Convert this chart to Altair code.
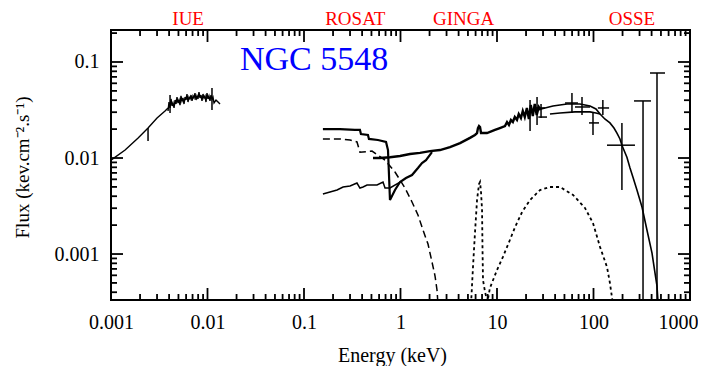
import altair as alt
import pandas as pd

# ---------------- data (energy in keV, flux in keV cm^-2 s^-1) ----------------
iue_model_e = [0.001, 0.00140, 0.00191, 0.00242, 0.00300, 0.00363, 0.00390]
iue_model_f = [0.0095, 0.0121, 0.0162, 0.0205, 0.0261, 0.0309, 0.0332]

iue_data_e = [0.00390, 0.00399, 0.00409, 0.00419, 0.00429, 0.00439, 0.00450, 0.00461, 0.00472, 0.00483,
              0.00495, 0.00507, 0.00519, 0.00531, 0.00544, 0.00557, 0.00571, 0.00585, 0.00599, 0.00613,
              0.00628, 0.00643, 0.00659, 0.00675, 0.00691, 0.00708, 0.00725, 0.00742, 0.00760, 0.00778,
              0.00797, 0.00816, 0.00836, 0.00856, 0.00877, 0.00898, 0.00920, 0.00942, 0.00965, 0.00988,
              0.01012, 0.01036, 0.01061, 0.01087, 0.01113, 0.01140, 0.01168, 0.01225, 0.01285, 0.01348]
iue_data_f = [0.0309, 0.0383, 0.0332, 0.0412, 0.0348, 0.0374, 0.0332, 0.0402, 0.0365, 0.0431,
              0.0374, 0.0402, 0.0356, 0.0443, 0.0393, 0.0422, 0.0365, 0.0431, 0.0402, 0.0464,
              0.0383, 0.0431, 0.0412, 0.0453, 0.0393, 0.0443, 0.0422, 0.0475, 0.0402, 0.0443,
              0.0412, 0.0487, 0.0422, 0.0453, 0.0393, 0.0464, 0.0422, 0.0443, 0.0383, 0.0475,
              0.0412, 0.0443, 0.0393, 0.0453, 0.0412, 0.0431, 0.0374, 0.0402, 0.0383, 0.0365]

rosat_e = [0.157, 0.236, 0.337, 0.380, 0.389, 0.460, 0.471, 0.584, 0.708, 0.742, 0.760, 0.778,
           0.877, 0.989, 1.14, 1.316, 1.517, 1.670, 1.837, 2.12]
rosat_f = [0.0200, 0.0200, 0.0196, 0.0196, 0.0178, 0.0174, 0.0158, 0.0154, 0.0147, 0.0121, 0.00665,
           0.00365, 0.00464, 0.00562, 0.00619, 0.00665, 0.00787, 0.00887, 0.0095, 0.0115]

absorbed_e = [0.157, 0.186, 0.220, 0.254, 0.300, 0.354, 0.380, 0.409, 0.450, 0.571, 0.659, 0.691, 0.778, 0.989]
absorbed_f = [0.00422, 0.00442, 0.00464, 0.00499, 0.00511, 0.00549, 0.00487, 0.00499, 0.00523, 0.00523,
              0.00562, 0.00487, 0.00487, 0.00562]

soft_e = [0.157, 0.236, 0.300, 0.354, 0.380, 0.507, 0.691, 0.877, 1.114, 1.316, 1.517, 1.710, 1.928,
          2.120, 2.280, 2.389, 2.446]
soft_f = [0.0158, 0.0158, 0.0154, 0.0147, 0.0115, 0.0118, 0.0095, 0.00715, 0.00487, 0.00348, 0.00255,
          0.00178, 0.00127, 0.000826, 0.000590, 0.000422, 0.00030]

xray_e = [0.519, 0.614, 0.778, 0.989, 1.254, 1.592, 2.023, 2.566, 3.258, 4.14, 5.25, 5.91, 6.21, 6.35,
          6.51, 6.67, 6.83, 7.88, 9.53, 10.7]
xray_f = [0.0100, 0.0100, 0.0102, 0.0105, 0.0110, 0.0113, 0.0118, 0.0121, 0.0130, 0.0143, 0.0162, 0.0174,
          0.0182, 0.0205, 0.0215, 0.0210, 0.0182, 0.0182, 0.0196, 0.0205]

ginga_e = [12.1, 12.7, 13.3, 13.95, 14.6, 15.3, 16.1, 16.8, 17.7, 18.5, 19.4, 20.4, 21.4, 22.4, 23.5,
           24.6, 25.8, 27.1, 28.4]
ginga_f = [0.0215, 0.0237, 0.0221, 0.0249, 0.0237, 0.0267, 0.0249, 0.0287, 0.0261, 0.0309, 0.0267,
           0.0332, 0.0255, 0.0356, 0.0274, 0.0365, 0.0281, 0.0340, 0.0316]

model_hi_e = [28.6, 38.0, 53.1, 72.4, 92.0, 106, 117, 131, 148, 163, 175, 188, 197, 222, 239, 256, 282,
              318, 358, 404, 434, 455, 465]
model_hi_f = [0.0324, 0.0348, 0.0365, 0.0365, 0.0348, 0.0324, 0.0287, 0.0255, 0.0232, 0.0205, 0.0182,
              0.0158, 0.0136, 0.0102, 0.00787, 0.00634, 0.00464, 0.00309, 0.00178, 0.00102, 0.000634,
              0.000464, 0.000330]

model_lo_e = [35.4, 45.0, 64.3, 92.0, 106, 117]
model_lo_f = [0.0287, 0.0294, 0.0302, 0.0302, 0.0294, 0.0287]

iron_e = [5.38, 5.64, 5.91, 6.21, 6.51, 6.67, 6.83, 7.00, 7.08, 7.16, 7.52, 8.07]
iron_f = [0.00030, 0.000733, 0.00165, 0.00365, 0.00535, 0.00562, 0.00442, 0.00287, 0.00110, 0.000536,
          0.000402, 0.00030]

refl_e = [7.88, 8.45, 10.0, 11.5, 13.6, 15.4, 18.2, 22.0, 27.9, 35.4, 45.0, 61.4, 81.6, 98.8, 117, 138,
          148, 159]
refl_f = [0.00030, 0.000443, 0.000681, 0.00093, 0.00140, 0.00191, 0.00274, 0.00365, 0.00464, 0.00499,
          0.00499, 0.00412, 0.00302, 0.00210, 0.00118, 0.000733, 0.000499, 0.00030]

err_e = [0.00409, 0.01113, 0.00242, 22.0, 26.0, 28.6, 59.8, 76.0, 98.8, 125, 197, 326, 455]
err_lo = [0.0294, 0.0316, 0.0150, 0.0191, 0.0221, 0.0261, 0.0294, 0.0281, 0.0174, 0.0281, 0.00464, 0.0003, 0.0003]
err_hi = [0.0453, 0.0536, 0.0205, 0.0402, 0.0431, 0.0365, 0.0475, 0.0431, 0.0294, 0.0402, 0.0232, 0.0393, 0.0768]

herr_lo = [23.6, 26.8, 50.7, 64.3, 89.8, 111, 138, 263, 385]
herr_hi = [31.4, 33.0, 69.0, 92.0, 114, 145, 269, 394, 551]
herr_f = [0.0332, 0.0267, 0.0374, 0.0340, 0.0232, 0.0332, 0.0136, 0.0393, 0.0768]

x_major = [0.001, 0.01, 0.1, 1, 10, 100, 1000]
x_minor = [0.002, 0.003, 0.004, 0.005, 0.006, 0.007, 0.008, 0.009,
           0.02, 0.03, 0.04, 0.05, 0.06, 0.07, 0.08, 0.09,
           0.2, 0.3, 0.4, 0.5, 0.6, 0.7, 0.8, 0.9,
           2, 3, 4, 5, 6, 7, 8, 9,
           20, 30, 40, 50, 60, 70, 80, 90,
           200, 300, 400, 500, 600, 700, 800, 900]
y_major = [0.001, 0.01, 0.1]
y_minor = [0.0004, 0.0005, 0.0006, 0.0007, 0.0008, 0.0009,
           0.002, 0.003, 0.004, 0.005, 0.006, 0.007, 0.008, 0.009,
           0.02, 0.03, 0.04, 0.05, 0.06, 0.07, 0.08, 0.09, 0.2]

instr_names = ["IUE", "ROSAT", "GINGA", "OSSE"]
instr_e = [0.0063, 0.34, 4.5, 250]
source_name = ["NGC 5548"]
source_e = [0.127]
source_f = [0.104]

# ---------------- chart ----------------
W, H = 579, 270
FONT = "Liberation Serif, Times New Roman, Times, serif"
xs = alt.Scale(type="log", domain=[0.001, 1000], nice=False)
ys = alt.Scale(type="log", domain=[0.000332, 0.2154], nice=False)

xaxis = alt.Axis(values=x_major, format="~g", ticks=False, tickSize=0, domain=False, grid=False,
                 labelFont=FONT, labelFontSize=20, labelColor="black", labelPadding=12,
                 labelFlush=False, labelOverlap=False,
                 labelAlign={"condition": {"test": "datum.value >= 1000", "value": "right"}, "value": "center"},
                 labelOffset={"condition": {"test": "datum.value >= 1000", "value": 8}, "value": 0},
                 title="Energy (keV)", titleFont=FONT, titleFontSize=20, titleFontWeight="normal",
                 titleColor="black", titleX=281, titleY=61, titleBaseline="alphabetic")
yaxis = alt.Axis(values=y_major, format="~g", ticks=False, tickSize=0, domain=False, grid=False,
                 labelFont=FONT, labelFontSize=20, labelColor="black", labelPadding=12,
                 labelFlush=False, labelOverlap=False,
                 title="Flux (kev.cm\u207b\u00b2.s\u207b\u00b9)", titleFont=FONT, titleFontSize=19,
                 titleFontWeight="normal", titleColor="black", titleX=-89, titleY=137,
                 titleBaseline="middle")


def X():
    return alt.X("E:Q", scale=xs, axis=xaxis)


def Y():
    return alt.Y("F:Q", scale=ys, axis=yaxis)


def line(e, f, w, dash=None):
    df = pd.DataFrame({"E": e, "F": f, "i": list(range(len(e)))})
    kw = dict(stroke="black", strokeWidth=w, clip=True)
    if dash:
        kw["strokeDash"] = dash
    return alt.Chart(df).mark_line(**kw).encode(x=X(), y=Y(), order="i:Q")


layers = [
    line(iue_model_e, iue_model_f, 1.4),
    line(iue_data_e, iue_data_f, 1.4),
    line(rosat_e, rosat_f, 2.2),
    line(absorbed_e, absorbed_f, 1.5),
    line(soft_e, soft_f, 1.5, [7, 4]),
    line(xray_e + ginga_e, xray_f + ginga_f, 2.4),
    line(model_hi_e, model_hi_f, 1.6),
    line(model_lo_e, model_lo_f, 1.6),
    line(iron_e, iron_f, 1.8, [3, 3]),
    line(refl_e, refl_f, 1.8, [3, 3]),
]

err_df = pd.DataFrame({"E": err_e, "F": err_lo, "F2": err_hi})
layers.append(alt.Chart(err_df).mark_rule(color="black", strokeWidth=1.5, clip=True).encode(
    x=X(), y=Y(), y2="F2:Q"))
herr_df = pd.DataFrame({"E": herr_lo, "E2": herr_hi, "F": herr_f})
layers.append(alt.Chart(herr_df).mark_rule(color="black", strokeWidth=1.5, clip=True).encode(
    x=X(), x2="E2:Q", y=Y()))

# inward ticks on all four sides
xM = pd.DataFrame({"E": x_major})
xm = pd.DataFrame({"E": x_minor})
yM = pd.DataFrame({"F": y_major})
ym = pd.DataFrame({"F": y_minor})
tk = dict(color="black", strokeWidth=1.8)
layers += [
    alt.Chart(xM).mark_rule(**tk).encode(x=X(), y=alt.value(H), y2=alt.value(H - 12)),
    alt.Chart(xM).mark_rule(**tk).encode(x=X(), y=alt.value(0), y2=alt.value(12)),
    alt.Chart(xm).mark_rule(**tk).encode(x=X(), y=alt.value(H), y2=alt.value(H - 6)),
    alt.Chart(xm).mark_rule(**tk).encode(x=X(), y=alt.value(0), y2=alt.value(6)),
    alt.Chart(yM).mark_rule(**tk).encode(y=Y(), x=alt.value(0), x2=alt.value(12)),
    alt.Chart(yM).mark_rule(**tk).encode(y=Y(), x=alt.value(W), x2=alt.value(W - 12)),
    alt.Chart(ym).mark_rule(**tk).encode(y=Y(), x=alt.value(0), x2=alt.value(6)),
    alt.Chart(ym).mark_rule(**tk).encode(y=Y(), x=alt.value(W), x2=alt.value(W - 6)),
]

instr_df = pd.DataFrame({"E": instr_e, "name": instr_names})
layers.append(alt.Chart(instr_df).mark_text(font=FONT, fontSize=19, color="#ff0000",
                                            align="center", baseline="middle").encode(
    x=X(), y=alt.value(-11), text="name:N"))
src_df = pd.DataFrame({"E": source_e, "F": source_f, "name": source_name})
layers.append(alt.Chart(src_df).mark_text(font=FONT, fontSize=34, color="#0000ff",
                                          align="center", baseline="middle").encode(
    x=X(), y=Y(), text="name:N"))

chart = alt.layer(*layers).properties(
    width=W, height=H,
    autosize=alt.AutoSizeParams(type="none"),
    padding={"left": 103, "top": 22, "right": 8, "bottom": 66},
).configure_view(stroke="black", strokeWidth=2)

chart.save("out.html", embed_options={"renderer": "svg", "actions": False})
